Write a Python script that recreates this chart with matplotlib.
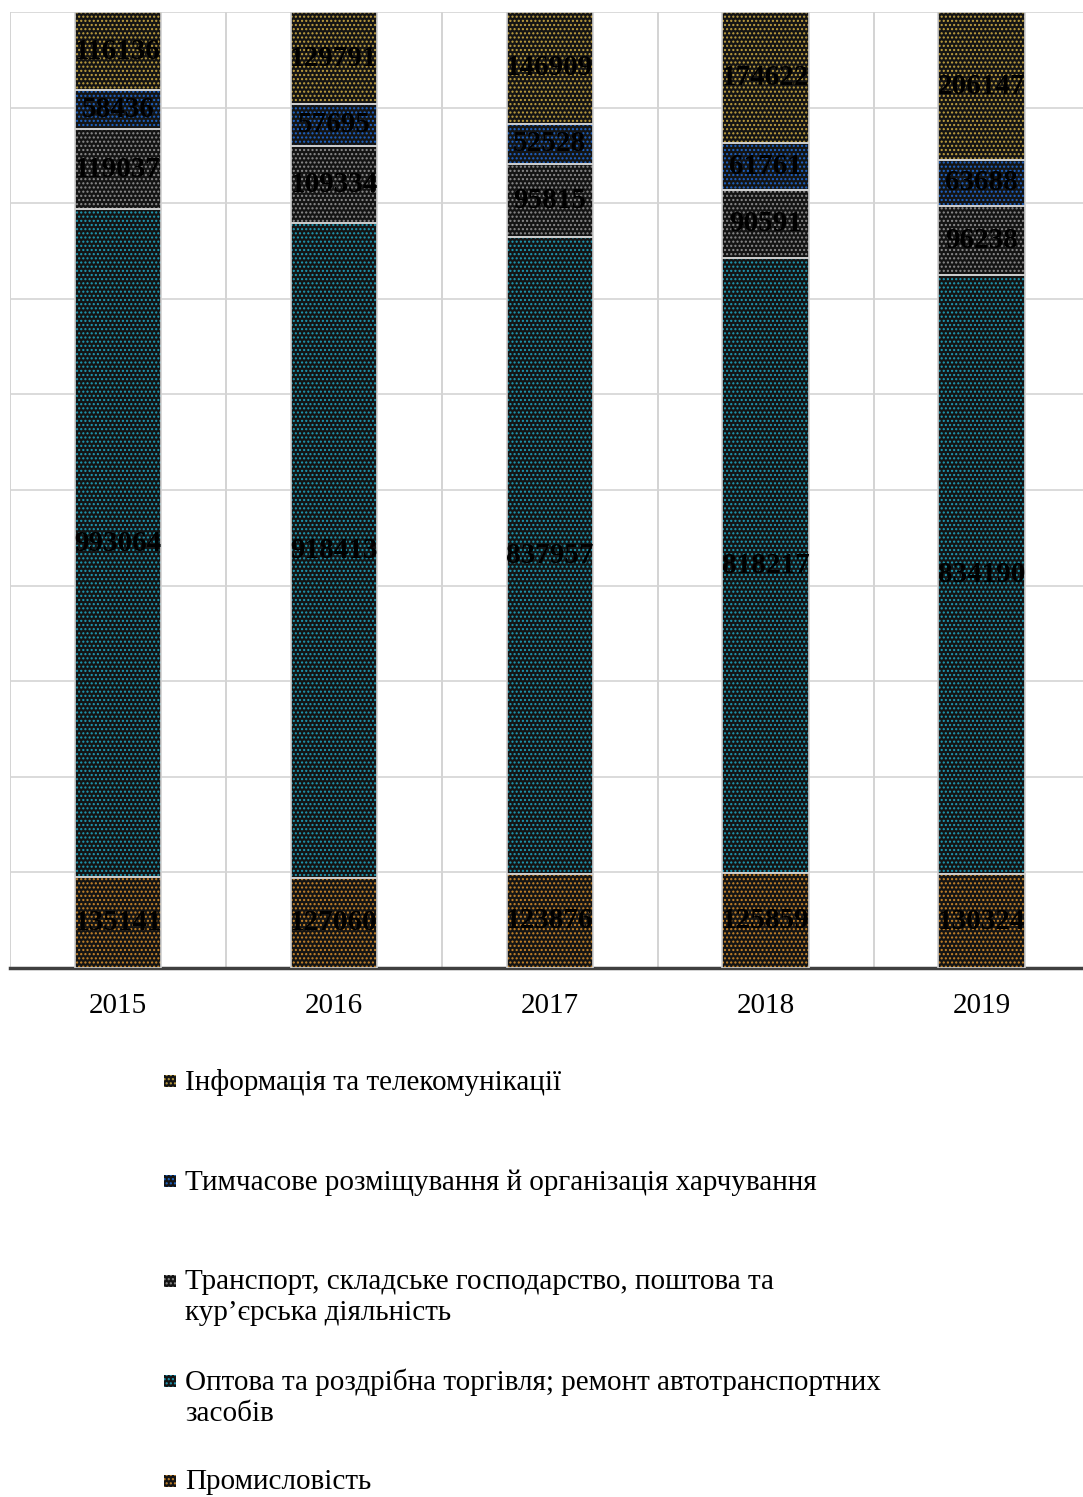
import numpy as np
import matplotlib.pyplot as plt
from matplotlib.patches import Rectangle

plt.rcParams['font.family'] = ['Liberation Serif', 'DejaVu Serif']
plt.rcParams['hatch.linewidth'] = 1.0

years = ['2015', '2016', '2017', '2018', '2019']
industry = [135141, 127060, 123876, 125859, 130324]
trade = [993064, 918413, 837957, 818217, 834190]
transport = [119037, 109334, 95815, 90591, 96238]
accommodation = [58436, 57695, 52528, 61761, 63688]
info = [116136, 129791, 146909, 174622, 206147]

names = ['Промисловість',
         'Оптова та роздрібна торгівля; ремонт автотранспортних\nзасобів',
         'Транспорт, складське господарство, поштова та\nкур’єрська діяльність',
         'Тимчасове розміщування й організація харчування',
         'Інформація та телекомунікації']
colors = ['#c8852a', '#1e9bb5', '#8c8c8c', '#1c64c8', '#c0a040']

data = np.array([industry, trade, transport, accommodation, info], dtype=float)
shares = data / data.sum(axis=0) * 100

fig = plt.figure(figsize=(10.83, 14.97), dpi=100)
ax = fig.add_axes([10 / 1083, 1 - 968 / 1497, 1 - 10 / 1083, (968 - 12) / 1497])

x = np.arange(len(years))
bottom = np.zeros(len(years))
for vals, pct, col in zip(data, shares, colors):
    ax.bar(x, pct, 0.4, bottom=bottom, color='#141414', edgecolor=col,
           hatch='....', linewidth=0, zorder=3)
    ax.bar(x, pct, 0.4, bottom=bottom, color='none', edgecolor='#d0d0d0',
           linewidth=1.2, zorder=4)
    for xi, b, p, v in zip(x, bottom, pct, vals):
        ax.text(xi, b + p / 2, f'{int(v)}', ha='center', va='center',
                fontsize=21, fontweight='bold', color='black', zorder=5)
    bottom += pct

ax.set_xlim(-0.5, 4.47)
ax.set_ylim(0, 100)
ax.set_yticks(np.arange(0, 101, 10))
ax.set_yticklabels([])
ax.set_xticks(x)
ax.set_xticklabels(years, fontsize=21)
ax.set_xticks(np.arange(-0.5, 4.5, 1), minor=True)
ax.tick_params(axis='both', which='both', length=0)
ax.tick_params(axis='x', pad=18)
ax.grid(axis='y', color='#d4d4d4', linewidth=1.2, zorder=0)
ax.grid(axis='x', which='minor', color='#cccccc', linewidth=1.2, zorder=0)
for s in ['top', 'right', 'left']:
    ax.spines[s].set_visible(False)
ax.spines['bottom'].set_color('#404040')
ax.spines['bottom'].set_linewidth(2.5)

# legend, top entry is the last series
ypos = [1481, 1381, 1281, 1181, 1081]
for name, col, yp in zip(names, colors, ypos):
    yf = 1 - yp / 1497
    fig.patches.append(Rectangle((164 / 1083, yf - 6 / 1497), 12 / 1083, 12 / 1497,
                                 transform=fig.transFigure, facecolor='#141414',
                                 edgecolor=col, hatch='....', linewidth=0))
    fig.text(185 / 1083, yf + 12 / 1497, name, ha='left', va='top',
             fontsize=21, linespacing=1.24)

fig.savefig('out.png', dpi=100)
